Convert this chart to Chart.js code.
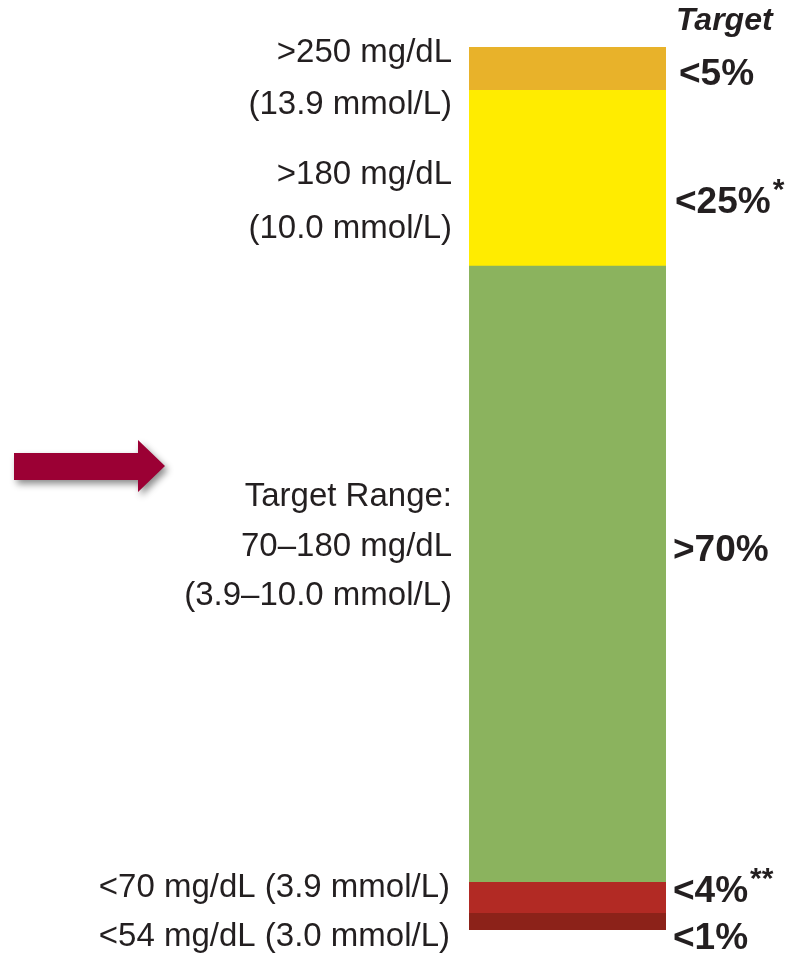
<!DOCTYPE html>
<html>
<head>
<meta charset="utf-8">
<script src="https://cdn.jsdelivr.net/npm/chart.js@4.4.1/dist/chart.umd.min.js"></script>
<style>
  html, body { margin: 0; padding: 0; background: #ffffff; }
  #wrap { position: relative; width: 787px; height: 967px; }
</style>
</head>
<body>
<div id="wrap"><canvas id="c"></canvas></div>
<script>
// ---- Data ----
const categories = ['Time in ranges'];
const segmentNames = ['<54 mg/dL', '<70 mg/dL', '70–180 mg/dL', '>180 mg/dL', '>250 mg/dL'];
const segmentValues = [1.9, 3.5, 69.8, 19.9, 4.9];
const segmentColors = ['#8C2219', '#B22A24', '#8BB35E', '#FFEC00', '#E8B22A'];
const axisMax = 100;

const leftLabels = [
  '>250 mg/dL', '(13.9 mmol/L)',
  '>180 mg/dL', '(10.0 mmol/L)',
  'Target Range:', '70–180 mg/dL', '(3.9–10.0 mmol/L)',
  '<70 mg/dL (3.9 mmol/L)', '<54 mg/dL (3.0 mmol/L)'
];
const targetHeader = 'Target';
const targetLabels = ['<5%', '<25%', '>70%', '<4%', '<1%'];
const targetNotes = ['', '*', '', '**', ''];

// ---- Layout (annotation positions, kept separate from data) ----
const leftLayout = [
  { x: 452, y: 53 }, { x: 452, y: 105 },
  { x: 452, y: 175 }, { x: 452, y: 229 },
  { x: 452, y: 497 }, { x: 452, y: 547 }, { x: 452, y: 596 },
  { x: 450, y: 888 }, { x: 450, y: 937 }
];
const rightLayout = [
  { x: 679, y: 75 }, { x: 675, y: 203 }, { x: 673, y: 551 }, { x: 673, y: 892 }, { x: 673, y: 939 }
];

const annotations = {
  id: 'annotations',
  afterDraw(chart) {
    const ctx = chart.ctx;
    ctx.save();
    // arrow with soft shadow
    ctx.save();
    ctx.shadowColor = 'rgba(0,0,0,0.45)';
    ctx.shadowBlur = 7;
    ctx.shadowOffsetX = 3;
    ctx.shadowOffsetY = 4;
    ctx.fillStyle = '#9B0034';
    ctx.beginPath();
    ctx.moveTo(14, 453);
    ctx.lineTo(138, 453);
    ctx.lineTo(138, 440);
    ctx.lineTo(165, 466);
    ctx.lineTo(138, 492);
    ctx.lineTo(138, 480);
    ctx.lineTo(14, 480);
    ctx.closePath();
    ctx.fill();
    ctx.restore();

    ctx.fillStyle = '#231F20';
    ctx.textBaseline = 'middle';
    // left labels
    ctx.font = '33px "Liberation Sans", Arial, sans-serif';
    ctx.textAlign = 'right';
    leftLabels.forEach((t, i) => ctx.fillText(t, leftLayout[i].x, leftLayout[i].y));

    // header
    ctx.textAlign = 'left';
    ctx.font = 'italic bold 32px "Liberation Sans", Arial, sans-serif';
    ctx.fillText(targetHeader, 676, 21);

    // target values
    targetLabels.forEach((t, i) => {
      const p = rightLayout[i];
      ctx.font = 'bold 37px "Liberation Sans", Arial, sans-serif';
      ctx.fillText(t, p.x, p.y);
      if (targetNotes[i]) {
        const w = ctx.measureText(t).width;
        ctx.font = 'bold 30px "Liberation Sans", Arial, sans-serif';
        ctx.fillText(targetNotes[i], p.x + w + 2, p.y - 12);
      }
    });
    ctx.restore();
  }
};

const datasets = segmentValues.map((v, i) => ({
  label: segmentNames[i],
  data: [v],
  backgroundColor: segmentColors[i],
  borderWidth: 0,
  barPercentage: 1.0,
  categoryPercentage: 1.0
}));

new Chart(document.getElementById('c'), {
  type: 'bar',
  data: { labels: categories, datasets },
  options: {
    responsive: true,
    maintainAspectRatio: false,
    animation: false,
    layout: { padding: { left: 469, right: 121, top: 47, bottom: 37 } },
    plugins: { legend: { display: false }, tooltip: { enabled: false } },
    scales: {
      x: { stacked: true, display: false },
      y: { stacked: true, display: false, min: 0, max: axisMax }
    }
  },
  plugins: [annotations]
});
</script>
</body>
</html>
